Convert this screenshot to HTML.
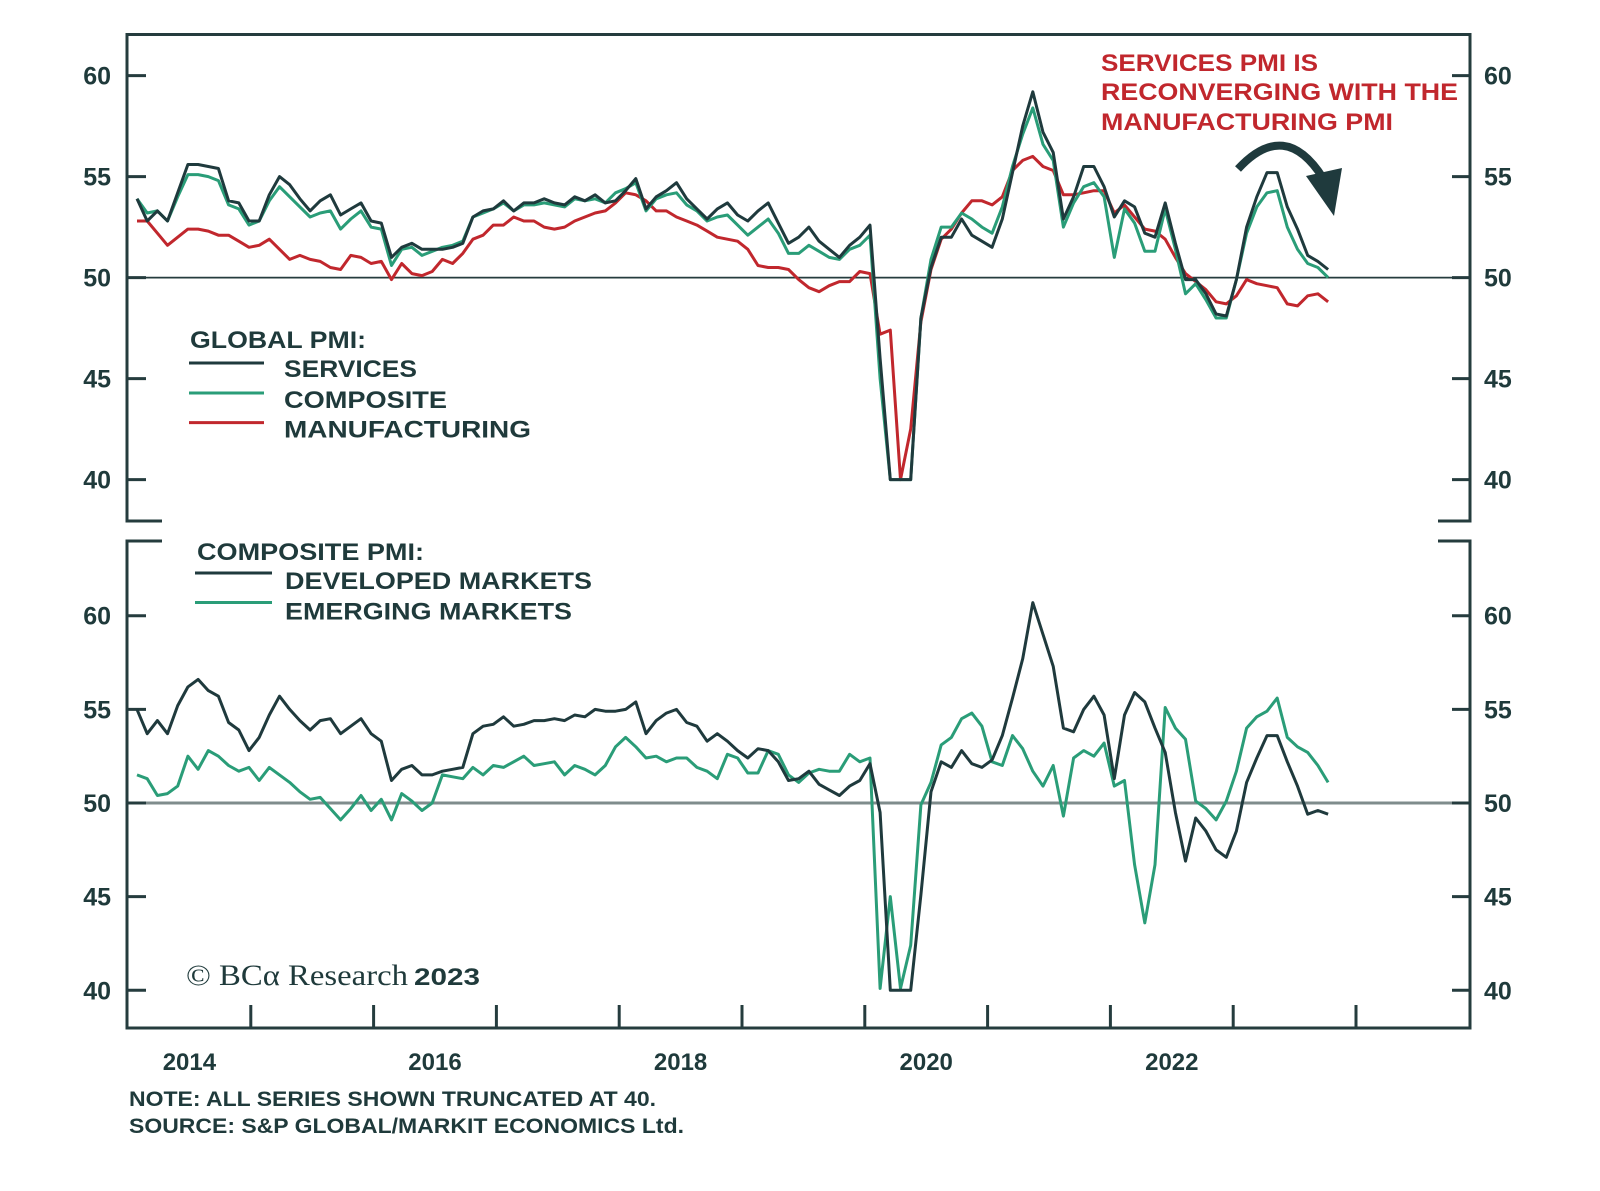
<!DOCTYPE html>
<html><head><meta charset="utf-8"><style>
html,body{margin:0;padding:0;background:#fff;}
svg{display:block;}
text{font-family:"Liberation Sans",sans-serif;font-weight:bold;fill:#1f3a3b;}
</style></head><body>
<svg id="chart" width="1600" height="1191" viewBox="0 0 1600 1191" xmlns="http://www.w3.org/2000/svg">
<g id="frame" stroke="#253c3e" stroke-width="3" fill="none">
  <path d="M162,521 H127 V34.5 H1470 V521 H1438"/>
  <path d="M162,541 H127 V1028 H1470 V541 H1438"/>
</g>
<line x1="127" x2="1470" y1="277.6" y2="277.6" stroke="#253c3e" stroke-width="1.8"/>
<line x1="127" x2="1470" y1="803" y2="803" stroke="#7f8c8c" stroke-width="3"/>
<g id="ticks"></g>
<g id="series"></g>
<g>
  <text x="190" y="348" font-size="24" textLength="176" lengthAdjust="spacingAndGlyphs">GLOBAL PMI:</text>
  <line x1="189" x2="264" y1="363" y2="363" stroke="#1f3a3d" stroke-width="3"/>
  <line x1="189" x2="264" y1="393" y2="393" stroke="#2a9d78" stroke-width="3"/>
  <line x1="189" x2="264" y1="422.6" y2="422.6" stroke="#c1272d" stroke-width="3"/>
  <text x="284" y="377" font-size="24" textLength="133" lengthAdjust="spacingAndGlyphs">SERVICES</text>
  <text x="284" y="408" font-size="24" textLength="163" lengthAdjust="spacingAndGlyphs">COMPOSITE</text>
  <text x="284" y="437.5" font-size="24" textLength="247" lengthAdjust="spacingAndGlyphs">MANUFACTURING</text>
</g>
<g>
  <text x="197" y="560" font-size="24" textLength="227" lengthAdjust="spacingAndGlyphs">COMPOSITE PMI:</text>
  <line x1="195" x2="272" y1="573" y2="573" stroke="#1f3a3d" stroke-width="3"/>
  <line x1="195" x2="272" y1="602.5" y2="602.5" stroke="#2a9d78" stroke-width="3"/>
  <text x="285" y="589" font-size="24" textLength="307" lengthAdjust="spacingAndGlyphs">DEVELOPED MARKETS</text>
  <text x="285" y="619.5" font-size="24" textLength="287" lengthAdjust="spacingAndGlyphs">EMERGING MARKETS</text>
</g>
<g>
  <text x="1101" y="71" font-size="24" fill="#c1272d" style="fill:#c1272d" textLength="217" lengthAdjust="spacingAndGlyphs">SERVICES PMI IS</text>
  <text x="1101" y="100" font-size="24" style="fill:#c1272d" textLength="357" lengthAdjust="spacingAndGlyphs">RECONVERGING WITH THE</text>
  <text x="1101" y="130" font-size="24" style="fill:#c1272d" textLength="292" lengthAdjust="spacingAndGlyphs">MANUFACTURING PMI</text>
  <path d="M1238,169 Q1285,118 1323,178" stroke="#1f3a3d" stroke-width="8" fill="none"/>
  <polygon points="1306,176 1342,168 1334,216" fill="#1f3a3d"/>
</g>
<g>
  <text x="186" y="985" font-size="30" style="font-family:'Liberation Serif',serif;font-weight:normal" textLength="222" lengthAdjust="spacingAndGlyphs">© BCα Research</text>
  <text x="414" y="985" font-size="24" textLength="66" lengthAdjust="spacingAndGlyphs">2023</text>
</g>
<text x="129" y="1106" font-size="21" textLength="527" lengthAdjust="spacingAndGlyphs">NOTE: ALL SERIES SHOWN TRUNCATED AT 40.</text>
<text x="129" y="1133" font-size="21" textLength="555" lengthAdjust="spacingAndGlyphs">SOURCE: S&amp;P GLOBAL/MARKIT ECONOMICS Ltd.</text>
</svg>
<script>
const yTicks = [40, 45, 50, 55, 60];
const yearLabels = ['2014', '2016', '2018', '2020', '2022'];
const yearTicks = [2015, 2016, 2017, 2018, 2019, 2020, 2021, 2022, 2023, 2024];
const startYear = 2014;
const services = [53.9,52.8,53.3,52.8,54.2,55.6,55.6,55.5,55.4,53.8,53.7,52.8,52.8,54.1,55.0,54.6,53.9,53.3,53.8,54.1,53.1,53.4,53.7,52.8,52.7,51.0,51.5,51.7,51.4,51.4,51.4,51.5,51.7,53.0,53.3,53.4,53.8,53.3,53.7,
53.7,53.9,53.7,53.6,54.0,53.8,54.1,53.7,53.8,54.3,54.9,53.4,54.0,54.3,54.7,53.9,53.4,52.9,53.4,53.7,53.1,52.8,53.3,53.7,52.7,51.7,52.0,52.5,51.8,51.4,51.0,51.6,52.0,52.6,
46,40,40,40,48,
50.5,52.0,52.0,52.9,52.1,51.8,51.5,52.9,55.2,57.5,59.2,57.2,56.2,52.9,54.0,55.5,55.5,54.5,53.0,53.8,53.5,52.2,52.0,53.7,51.7,49.9,49.9,49.2,48.2,48.1,49.9,52.5,54.0,55.2,55.2,53.5,52.4,51.1,50.8,50.4];
const composite = [53.9,53.2,53.3,52.8,54.0,55.1,55.1,55.0,54.8,53.6,53.4,52.6,52.8,53.8,54.5,54.0,53.5,53.0,53.2,53.3,52.4,52.9,53.3,52.5,52.4,50.6,51.4,51.5,51.1,51.3,51.5,51.6,51.8,53.0,53.2,53.4,53.7,53.3,53.6,
53.6,53.7,53.6,53.5,53.9,53.8,53.9,53.7,54.2,54.4,54.7,53.3,53.9,54.1,54.2,53.6,53.3,52.8,53.0,53.1,52.6,52.1,52.5,52.9,52.2,51.2,51.2,51.6,51.3,51.0,50.9,51.4,51.6,52.1,
45,40,40,40,48,
50.9,52.5,52.5,53.2,52.9,52.5,52.2,53.5,55.5,57.1,58.4,56.6,55.8,52.5,53.7,54.5,54.7,54.0,51.0,53.4,52.7,51.3,51.3,53.4,51.4,49.2,49.7,48.9,48.0,48.0,49.9,52.2,53.5,54.2,54.3,52.5,51.4,50.7,50.5,50.0];
const manufacturing = [52.8,52.8,52.2,51.6,52.0,52.4,52.4,52.3,52.1,52.1,51.8,51.5,51.6,51.9,51.4,50.9,51.1,50.9,50.8,50.5,50.4,51.1,51.0,50.7,50.8,49.9,50.7,50.2,50.1,50.3,50.9,50.7,51.2,51.9,52.1,52.6,52.6,53.0,52.8,
52.8,52.5,52.4,52.5,52.8,53.0,53.2,53.3,53.7,54.2,54.1,53.8,53.3,53.3,53.0,52.8,52.6,52.3,52.0,51.9,51.8,51.4,50.6,50.5,50.5,50.4,49.9,49.5,49.3,49.6,49.8,49.8,50.3,50.2,
47.2,47.4,40,42.5,47.8,
50.4,51.9,52.4,53.2,53.8,53.8,53.6,54.0,55.3,55.8,56.0,55.5,55.3,54.1,54.1,54.2,54.3,54.3,53.2,53.6,53.0,52.4,52.3,51.9,51.0,50.2,49.8,49.4,48.8,48.7,49.1,49.9,49.7,49.6,49.5,48.7,48.6,49.1,49.2,48.8];
const developed = [55.0,53.7,54.4,53.7,55.2,56.2,56.6,56.0,55.7,54.3,53.9,52.8,53.5,54.7,55.7,55.0,54.4,53.9,54.4,54.5,53.7,54.1,54.5,53.7,53.3,51.2,51.8,52.0,51.5,51.5,51.7,51.8,51.9,53.7,54.1,54.2,54.6,54.1,54.2,54.4,
54.4,54.5,54.4,54.7,54.6,55.0,54.9,54.9,55.0,55.4,53.7,54.4,54.8,55.0,54.3,54.1,53.3,53.7,53.3,52.8,52.4,52.9,52.8,52.2,51.2,51.3,51.7,51.0,50.7,50.4,50.9,51.2,52.1,
49.5,40,40,40,45.1,
50.6,52.2,51.9,52.8,52.1,51.9,52.3,53.6,55.6,57.7,60.7,59.0,57.3,54.0,53.8,55.0,55.7,54.7,51.3,54.7,55.9,55.4,54.0,52.7,49.5,46.9,49.2,48.5,47.5,47.1,48.5,51.1,52.4,53.6,53.6,52.2,50.9,49.4,49.6,49.4];
const emerging = [51.5,51.3,50.4,50.5,50.9,52.5,51.8,52.8,52.5,52.0,51.7,51.9,51.2,51.9,51.5,51.1,50.6,50.2,50.3,49.7,49.1,49.7,50.4,49.6,50.2,49.1,50.5,50.1,49.6,50.0,51.5,51.4,51.3,51.9,51.5,52.0,51.9,52.2,52.5,52.0,
52.1,52.2,51.5,52.0,51.8,51.5,52.0,53.0,53.5,53.0,52.4,52.5,52.2,52.4,52.4,51.9,51.7,51.3,52.6,52.4,51.6,51.6,52.8,52.6,51.5,51.1,51.6,51.8,51.7,51.7,52.6,52.2,52.4,
40.1,45.0,40.1,42.4,49.9,
51.1,53.1,53.5,54.5,54.8,54.1,52.2,52.0,53.6,52.9,51.7,50.9,52.0,49.3,52.4,52.8,52.5,53.2,50.9,51.2,46.7,43.6,46.7,55.1,54.0,53.4,50.1,49.7,49.1,50.1,51.7,54.0,54.6,54.9,55.6,53.5,53.0,52.7,52.0,51.1];

const NS = 'http://www.w3.org/2000/svg';
const monthX = i => 137 + i * 10.18;
const yearX = yr => 128 + (yr - startYear) * 122.8;
const yTop = v => 277.6 - (Math.max(v, 40) - 50) * 20.2;
const yBot = v => 803 - (Math.max(v, 40) - 50) * 18.73;

const ticksG = document.getElementById('ticks');
function mk(tag, attrs, parent) {
  const el = document.createElementNS(NS, tag);
  for (const k in attrs) el.setAttribute(k, attrs[k]);
  parent.appendChild(el);
  return el;
}
[yTop, yBot].forEach((sc, p) => {
  yTicks.forEach(v => {
    const y = sc(v);
    const l1 = mk('line', {x1: 127, x2: 146, y1: y, y2: y, stroke: '#253c3e', 'stroke-width': 3}, ticksG);
    
    
    const l2 = mk('line', {x1: 1452, x2: 1470, y1: y, y2: y, stroke: '#253c3e', 'stroke-width': 3}, ticksG);
    
    
    const t1 = mk('text', {x: 111, y: y + 9, 'font-size': 25, 'text-anchor': 'end'}, ticksG);
    t1.textContent = v;
    
    
    const t2 = mk('text', {x: 1484, y: y + 9, 'font-size': 25}, ticksG);
    t2.textContent = v;
    
    
  });
});
yearTicks.forEach(yr => {
  const x = yearX(yr);
  const l = mk('line', {x1: x, x2: x, y1: 1005, y2: 1028, stroke: '#253c3e', 'stroke-width': 3}, ticksG);
  
  
});
yearLabels.forEach(lab => {
  const x = yearX(+lab) + 61.4;
  const t = mk('text', {x: x, y: 1070, 'font-size': 24, 'text-anchor': 'middle'}, ticksG);
  t.textContent = lab;
  
  
});

const seriesG = document.getElementById('series');
function drawLine(vals, sc, color, name) {
  const d = vals.map((v, i) => (i ? 'L' : 'M') + monthX(i).toFixed(1) + ',' + sc(v).toFixed(1)).join(' ');
  const p = mk('path', {d: d, fill: 'none', stroke: color, 'stroke-width': 3, 'stroke-linejoin': 'round'}, seriesG);
  
  
}
drawLine(manufacturing, yTop, '#c1272d', 'manufacturing-pmi-line');
drawLine(composite, yTop, '#2a9d78', 'composite-pmi-line');
drawLine(services, yTop, '#1f3a3d', 'services-pmi-line');
drawLine(emerging, yBot, '#2a9d78', 'emerging-markets-line');
drawLine(developed, yBot, '#1f3a3d', 'developed-markets-line');
</script>
</body></html>
